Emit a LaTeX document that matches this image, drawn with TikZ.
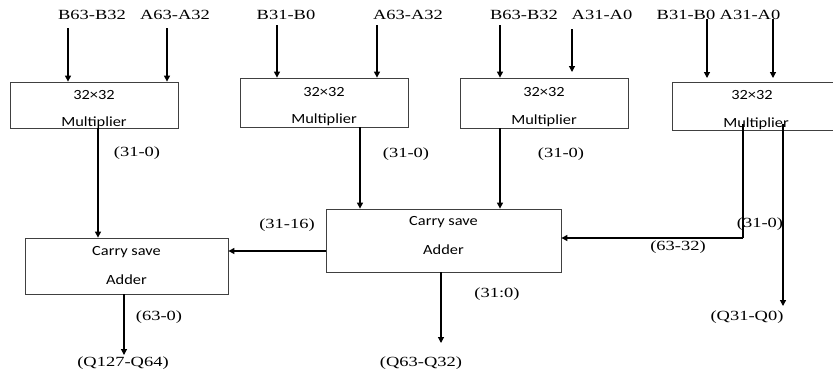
\documentclass[tikz,border=0pt]{standalone}
\usepackage{fontspec}
\setmainfont{Liberation Serif}[FakeStretch=1.32]
\newfontfamily\boxfont{Carlito}[FakeStretch=1.17]
\usetikzlibrary{arrows.meta}
\begin{document}
\begin{tikzpicture}[x=1pt,y=-1pt,
  box/.style={draw=black!75, line width=0.8pt, inner sep=0pt},
  lbl/.style={inner sep=0pt, font=\fontsize{14}{16}\selectfont},
  btxt/.style={inner sep=0pt, font=\boxfont\fontsize{14}{16}\selectfont},
  arr/.style={line width=1.2pt, -{Triangle[width=6pt,length=6pt]}},
  wire/.style={line width=1.2pt}]
\clip (0,0) rectangle (833,373);
\fill[white] (0,0) rectangle (833,373);

% multipliers
\node[box, minimum width=168pt, minimum height=46pt] (m1) at (94,105) {};
\node[box, minimum width=168pt, minimum height=49pt] (m2) at (324,102.5) {};
\node[box, minimum width=168pt, minimum height=50pt] (m3) at (544,103) {};
\node[box, minimum width=164pt, minimum height=48pt] (m4) at (754,106.5) {};
\node[btxt] (m1a) at (94,95) {32×32};
\node[btxt] (m1b) at (94,123) {Multiplier};
\node[btxt] (m2a) at (324,92) {32×32};
\node[btxt] (m2b) at (324,120) {Multiplier};
\node[btxt] (m3a) at (544,92) {32×32};
\node[btxt] (m3b) at (544,121) {Multiplier};
\node[btxt] (m4a) at (752,95) {32×32};
\node[btxt] (m4b) at (756,124) {Multiplier};

% carry save adders
\node[box, minimum width=203pt, minimum height=56pt] (c1) at (126.5,266) {};
\node[box, minimum width=235pt, minimum height=63pt] (c2) at (443.5,240.5) {};
\node[btxt] (c1a) at (126.5,252) {Carry save};
\node[btxt] (c1b) at (126.5,280) {Adder};
\node[btxt] (c2a) at (443.5,222) {Carry save};
\node[btxt] (c2b) at (443.5,250) {Adder};

% top labels
\node[lbl] (l1) at (92,15) {B63-B32};
\node[lbl] (l2) at (175,15) {A63-A32};
\node[lbl] (l3) at (286,15) {B31-B0};
\node[lbl] (l4) at (408,15) {A63-A32};
\node[lbl] (l5) at (524,15) {B63-B32};
\node[lbl] (l6) at (602,15) {A31-A0};
\node[lbl] (l7) at (686,15) {B31-B0};
\node[lbl] (l8) at (750,15) {A31-A0};

% input arrows
\coordinate (i1) at (68,28);
\coordinate (i2) at (167,28);
\coordinate (i3) at (277,25);
\coordinate (i4) at (377,25);
\coordinate (i5) at (500,25);
\coordinate (i6) at (572,29);
\coordinate (i6e) at (572,72);
\coordinate (i7) at (707,19);
\coordinate (i7e) at (707,78);
\coordinate (i8) at (773,19);
\coordinate (i8e) at (773,78);
\draw[arr] (i1) -- (i1 |- m1.north);
\draw[arr] (i2) -- (i2 |- m1.north);
\draw[arr] (i3) -- (i3 |- m2.north);
\draw[arr] (i4) -- (i4 |- m2.north);
\draw[arr] (i5) -- (i5 |- m3.north);
\draw[arr] (i6) -- (i6e);
\draw[arr] (i7) -- (i7e);
\draw[arr] (i8) -- (i8e);

% internal connections
\coordinate (o1) at (98,128);
\draw[arr] (o1) -- (o1 |- c1.north);
\coordinate (o2) at (360,127);
\draw[arr] (o2) -- (o2 |- c2.north);
\coordinate (o3) at (500,128);
\draw[arr] (o3) -- (o3 |- c2.north);
\coordinate (o4) at (743,124);
\coordinate (o4b) at (743,238);
\draw[wire] (o4) -- (o4b);
\draw[arr] (o4b) -- (o4b -| c2.east);
\coordinate (o5) at (783,124);
\coordinate (q0) at (783,306);
\draw[arr] (o5) -- (q0);
\coordinate (cl) at (326,251);
\draw[arr] (cl) -- (cl -| c1.east);
\coordinate (c2o) at (441,272);
\coordinate (q32) at (441,343);
\draw[arr] (c2o) -- (q32);
\coordinate (c1o) at (124,294);
\coordinate (q64) at (124,355);
\draw[arr] (c1o) -- (q64);

% wire labels
\node[lbl] (w1) at (137,153) {(31-0)};
\node[lbl] (w2) at (406,154) {(31-0)};
\node[lbl] (w3) at (561,154) {(31-0)};
\node[lbl] (w4) at (760,224) {(31-0)};
\node[lbl] (w5) at (287,225) {(31-16)};
\node[lbl] (w6) at (678,247) {(63-32)};
\node[lbl] (w7) at (159,317) {(63-0)};
\node[lbl] (w8) at (497,294) {(31:0)};
\node[lbl] (r1) at (123,363) {(Q127-Q64)};
\node[lbl] (r2) at (421,363) {(Q63-Q32)};
\node[lbl] (r3) at (747,317) {(Q31-Q0)};
\end{tikzpicture}
\end{document}
